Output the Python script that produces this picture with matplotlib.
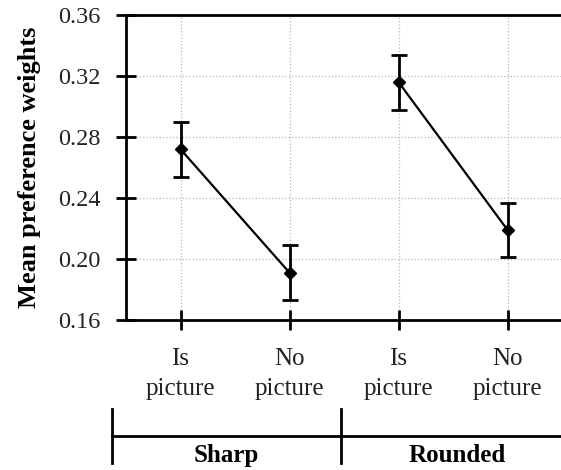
import matplotlib
matplotlib.use("Agg")
import matplotlib.pyplot as plt
import matplotlib.transforms as mtransforms
import numpy as np

# data
categories = ["Is\npicture", "No\npicture", "Is\npicture", "No\npicture"]
groups = ["Sharp", "Rounded"]
means = [0.272, 0.191, 0.316, 0.219]
errors = [0.018, 0.018, 0.018, 0.018]
yticks = [0.16, 0.20, 0.24, 0.28, 0.32, 0.36]

plt.rcParams.update({"font.family": ["Liberation Serif", "DejaVu Serif"], "font.size": 17})

fig = plt.figure(figsize=(5.61, 4.70), dpi=100)
ax = fig.add_axes([126 / 561, 1 - 320 / 470, 1 - 126 / 561, 305 / 470])

x = np.arange(1, len(means) + 1)
for i in range(0, len(means), 2):
    ax.errorbar(x[i:i + 2], means[i:i + 2], yerr=errors[i:i + 2], color="black", lw=1.6,
                marker="D", ms=6, elinewidth=2, capsize=6, capthick=2, clip_on=False, zorder=3)

ax.set_xlim(0.5, 4.49)
ax.set_ylim(0.16, 0.36)
ax.set_yticks(yticks)
ax.set_yticklabels([f"{v:.2f}" for v in yticks], fontsize=17.5)
ax.set_xticks(x)
ax.set_xticklabels(categories, linespacing=1.45, fontsize=18)
ax.tick_params(axis="both", direction="inout", length=15, width=2, colors="black",
               labelcolor="#222222")
ax.tick_params(axis="y", pad=11)
ax.tick_params(axis="x", pad=13)
ax.grid(True, color="#b8b8b8", ls=":", lw=0.9)
ax.set_axisbelow(True)
for s in ["left", "bottom", "top"]:
    ax.spines[s].set_linewidth(2)
ax.spines["right"].set_visible(False)
ax.set_ylabel("Mean preference weights", fontweight="bold", fontsize=19, labelpad=12)

# group brackets under the category labels
tr = mtransforms.blended_transform_factory(ax.transData, ax.transAxes)
bracket_edges = [0.372, 2.47, 4.6]
yb, yb0, yb1 = -0.380, -0.292, -0.468
ax.plot([bracket_edges[0], bracket_edges[-1]], [yb, yb], color="black", lw=2,
        transform=tr, clip_on=False)
for e in bracket_edges[:2]:
    ax.plot([e, e], [yb0, yb1], color="black", lw=2, transform=tr, clip_on=False)
for g, a, b in zip(groups, bracket_edges[:-1], bracket_edges[1:]):
    ax.text((a + b) / 2, -0.445, g, transform=tr, ha="center", va="center",
            fontweight="bold", fontsize=18)

fig.savefig("out.png", dpi=100)
